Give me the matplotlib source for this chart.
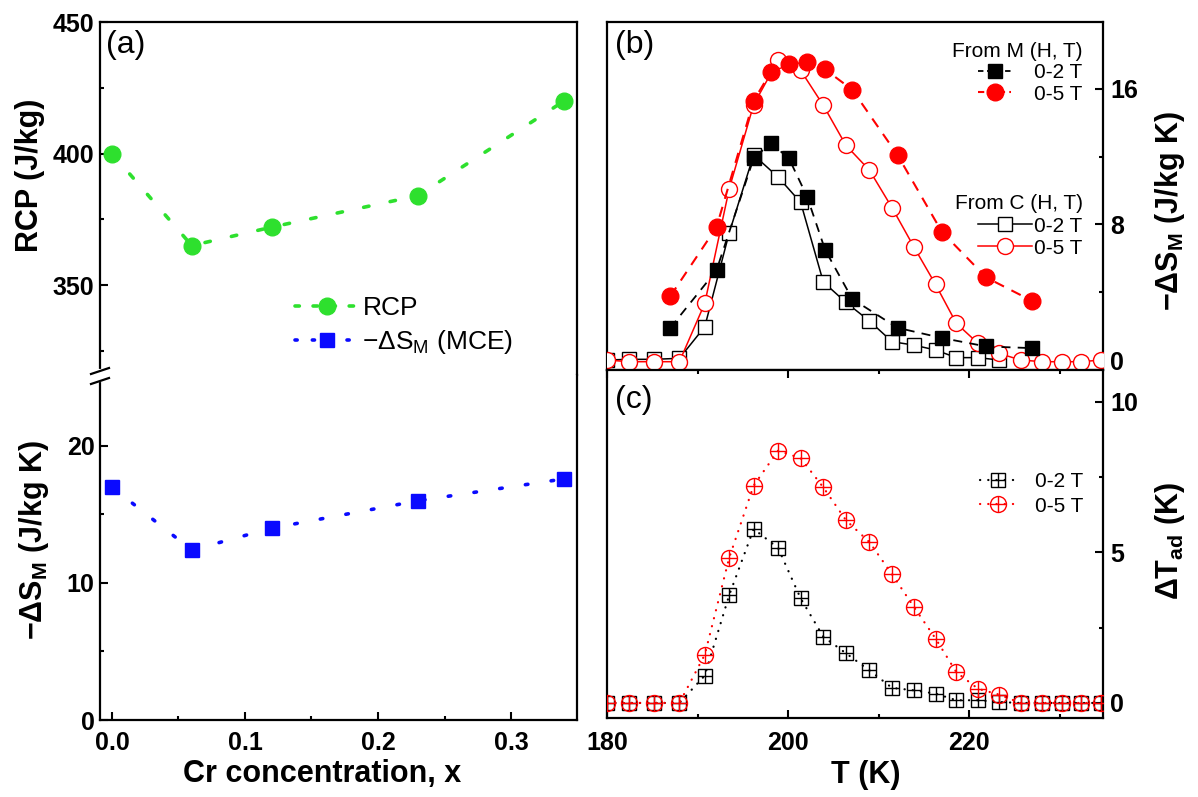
import matplotlib
matplotlib.use('Agg')
import matplotlib.pyplot as plt
from matplotlib.lines import Line2D
from matplotlib.ticker import FixedLocator

plt.rcParams['font.family'] = ['Liberation Sans', 'DejaVu Sans']
plt.rcParams['mathtext.fontset'] = 'custom'
plt.rcParams['mathtext.rm'] = 'Liberation Sans'
plt.rcParams['mathtext.it'] = 'Liberation Sans:italic'
plt.rcParams['mathtext.bf'] = 'Liberation Sans:bold'

# ---------------- data ----------------
cr_x = [0.0, 0.06, 0.12, 0.23, 0.34]
rcp = [400, 365, 372, 384, 420]
dsm_mce = [17.0, 12.4, 14.0, 16.0, 17.6]

T_M = [187.0, 192.1, 196.2, 198.1, 200.1, 202.1, 204.1, 207.1, 212.1, 217.0, 221.9, 227.0]
dsm_M_2T = [1.9, 5.3, 11.9, 12.8, 11.9, 9.65, 6.5, 3.6, 1.9, 1.3, 0.8, 0.7]
dsm_M_5T = [3.77, 7.84, 15.3, 17.0, 17.5, 17.6, 17.15, 15.95, 12.1, 7.56, 4.87, 3.48]

T_C = [180.0, 182.4, 185.2, 188.0, 190.8, 193.5, 196.2, 198.9, 201.4, 203.9, 206.4, 209.0,
       211.5, 213.9, 216.3, 218.6, 221.0, 223.3, 225.7, 228.1, 230.3, 232.4, 234.6]
dsm_C_2T = [0.0, 0.04, 0.04, 0.1, 1.96, 7.5, 12.1, 10.8, 9.3, 4.6, 3.4, 2.3, 1.08, 0.88,
            0.59, 0.14, 0.14, 0.0]
dsm_C_5T = [0.0, -0.1, -0.1, -0.1, 3.34, 10.1, 15.07, 17.68, 17.09, 15.03, 12.67, 11.2, 8.98,
            6.68, 4.46, 2.16, 0.98, 0.39, 0.0, -0.1, -0.1, -0.1, 0.0]

dTad_2T = [0, 0, 0, 0, 0.91, 3.58, 5.78, 5.15, 3.47, 2.2, 1.65, 1.08, 0.5, 0.42, 0.31, 0.09,
           0.09, 0.03, 0, 0, 0, 0, 0]
dTad_5T = [0, 0, 0, 0, 1.6, 4.82, 7.22, 8.38, 8.13, 7.16, 6.07, 5.34, 4.27, 3.19, 2.14, 1.02,
           0.47, 0.28, 0, 0, 0, 0, 0]

GREEN = '#2ee02e'
BLUE = '#0a0aff'
RED = '#ff0000'

TICK_FS = 18
LABEL_FS = 22
PANEL_FS = 23
LEG_FS = 15

W, H = 1198, 797
fig = plt.figure(figsize=(W / 100, H / 100), dpi=100)


def rect(l, t, r, b):
    return [l / W, 1 - b / H, (r - l) / W, (b - t) / H]


ax_a1 = fig.add_axes(rect(100, 22, 577, 375))
ax_a2 = fig.add_axes(rect(100, 375, 577, 720))
ax_b = fig.add_axes(rect(607, 22, 1103, 370))
ax_c = fig.add_axes(rect(607, 370, 1103, 718))

for ax in (ax_a1, ax_a2, ax_b, ax_c):
    for s in ax.spines.values():
        s.set_linewidth(1.6)
    ax.tick_params(which='both', direction='in', width=1.5, top=False, right=False,
                   labelsize=TICK_FS)
    ax.tick_params(which='major', length=6)
    ax.tick_params(which='minor', length=3)


def bold_labels(ax):
    for lbl in ax.get_xticklabels() + ax.get_yticklabels():
        lbl.set_fontweight('bold')


# ---------------- panel (a) ----------------
dash_g = (0, (1.5, 6.0))
dash_b = (0, (0.7, 6.5))
ax_a1.plot(cr_x, rcp, color=GREEN, lw=2.6, linestyle=dash_g, dash_capstyle='round',
           marker='o', ms=12, mec=GREEN, mfc=GREEN)
ax_a2.plot(cr_x, dsm_mce, color=BLUE, lw=2.6, linestyle=dash_b, dash_capstyle='round',
           marker='s', ms=10, mec=BLUE, mfc=BLUE)
for ax in (ax_a1, ax_a2):
    ax.set_xlim(-0.009, 0.3496)
ax_a1.set_ylim(315.8, 450)
ax_a2.set_ylim(0, 25.18)
ax_a1.spines['bottom'].set_visible(False)
ax_a2.spines['top'].set_visible(False)
ax_a1.tick_params(which='both', bottom=False, labelbottom=False)
ax_a1.yaxis.set_major_locator(FixedLocator([350, 400, 450]))
ax_a1.yaxis.set_minor_locator(FixedLocator([325, 375, 425]))
ax_a2.yaxis.set_major_locator(FixedLocator([0, 10, 20]))
ax_a2.yaxis.set_minor_locator(FixedLocator([5, 15]))
ax_a2.xaxis.set_major_locator(FixedLocator([0.0, 0.1, 0.2, 0.3]))
ax_a2.xaxis.set_minor_locator(FixedLocator([0.05, 0.15, 0.25]))
ax_a2.set_xticklabels(['0.0', '0.1', '0.2', '0.3'])
ax_a1.tick_params(axis='y', pad=4)
ax_a2.tick_params(axis='y', pad=4)
ax_a2.tick_params(axis='x', pad=8)
bold_labels(ax_a1)
bold_labels(ax_a2)

h_rcp = Line2D([], [], color=GREEN, lw=2.6, linestyle=(0, (1.2, 3.8)), dash_capstyle='round',
               marker='o', ms=12, mec=GREEN, mfc=GREEN)
h_mce = Line2D([], [], color=BLUE, lw=2.6, linestyle=(0, (0.6, 4.2)), dash_capstyle='round',
               marker='s', ms=10, mec=BLUE, mfc=BLUE)
ax_a1.legend([h_rcp, h_mce], ['RCP', '\u2212\u0394S$_\\mathrm{M}$ (MCE)'],
             loc='upper left', bbox_to_anchor=(282 / W, 1 - 283 / H),
             bbox_transform=fig.transFigure, frameon=False, fontsize=19,
             handlelength=2.4, handletextpad=0.15, labelspacing=0.3, borderpad=0)

fig.text(106 / W, 1 - 45 / H, '(a)', fontsize=PANEL_FS, ha='left', va='center')
fig.text(30 / W, 1 - 175 / H, 'RCP (J/kg)', fontsize=LABEL_FS, fontweight='bold',
         rotation=90, ha='center', va='center')
fig.text(34 / W, 1 - 540 / H, '\u2212\u0394S$_\\mathbf{M}$ (J/kg K)', fontsize=LABEL_FS,
         fontweight='bold', rotation=90, ha='center', va='center')
fig.text(322 / W, 1 - 774 / H, 'Cr concentration, x', fontsize=LABEL_FS, fontweight='bold',
         ha='center', va='center')

# axis break marks on the left spine
px = lambda x, y: (x / W, 1 - y / H)
fig.add_artist(Line2D([100 / W, 100 / W], [1 - 371 / H, 1 - 380 / H], color='white',
                      lw=3, transform=fig.transFigure))
for yb in (371, 381):
    x0, y0 = px(91, yb + 3)
    x1, y1 = px(109, yb - 3)
    fig.add_artist(Line2D([x0, x1], [y0, y1], color='black', lw=1.6,
                          transform=fig.transFigure))

# ---------------- panel (b) ----------------
n2 = len(dsm_C_2T)
ax_b.plot(T_C[:n2], dsm_C_2T, color='black', lw=1.1, marker='s', ms=10.5,
          mfc='white', mec='black', mew=1.0, zorder=2)
ax_b.plot(T_C, dsm_C_5T, color=RED, lw=1.1, marker='o', ms=11.5,
          mfc='white', mec=RED, mew=1.0, zorder=3)
ax_b.plot(T_M, dsm_M_2T, color='black', lw=1.3, linestyle=(0, (5, 4)), marker='s', ms=10.5,
          mfc='black', mec='black', zorder=4)
ax_b.plot(T_M, dsm_M_5T, color=RED, lw=1.5, linestyle=(0, (5, 4)), marker='o', ms=12,
          mfc=RED, mec=RED, zorder=5)
ax_b.set_xlim(180, 234.8)
ax_b.set_ylim(-0.59, 19.95)
ax_b.tick_params(which='both', bottom=False, labelbottom=False, left=False, labelleft=False,
                 right=True, labelright=True)
ax_b.yaxis.set_major_locator(FixedLocator([0, 8, 16]))
ax_b.yaxis.set_minor_locator(FixedLocator([4, 12]))
ax_b.tick_params(axis='y', pad=5)
bold_labels(ax_b)

hM2 = Line2D([], [], color='black', lw=1.3, linestyle=(0, (3, 2)), marker='s', ms=10.5,
             mfc='black', mec='black')
hM5 = Line2D([], [], color=RED, lw=1.5, linestyle=(0, (3, 2)), marker='o', ms=12,
             mfc=RED, mec=RED)
legM = ax_b.legend([hM2, hM5], ['0-2 T', '0-5 T'], title='From M (H, T)',
                   loc='upper right', bbox_to_anchor=(1093 / W, 1 - 32 / H),
                   bbox_transform=fig.transFigure, frameon=False, fontsize=LEG_FS,
                   title_fontsize=LEG_FS, handlelength=1.6, handletextpad=1.1,
                   labelspacing=0.1, borderpad=0, alignment='right')
ax_b.add_artist(legM)
hC2 = Line2D([], [], color='black', lw=1.1, marker='s', ms=10.5, mfc='white', mec='black')
hC5 = Line2D([], [], color=RED, lw=1.1, marker='o', ms=11.5, mfc='white', mec=RED)
ax_b.legend([hC2, hC5], ['0-2 T', '0-5 T'], title='From C (H, T)',
            loc='upper right', bbox_to_anchor=(1093 / W, 1 - 184 / H),
            bbox_transform=fig.transFigure, frameon=False, fontsize=LEG_FS,
            title_fontsize=LEG_FS, handlelength=2.6, handletextpad=0.1,
            labelspacing=0.15, borderpad=0, alignment='right')

fig.text(615 / W, 1 - 45 / H, '(b)', fontsize=PANEL_FS, ha='left', va='center')
fig.text(1170 / W, 1 - 211 / H, '\u2212\u0394S$_\\mathbf{M}$ (J/kg K)', fontsize=LABEL_FS,
         fontweight='bold', rotation=90, ha='center', va='center')

# ---------------- panel (c) ----------------
dot_c = (0, (0.1, 3.6))
ax_c.plot(T_C, dTad_2T, color='black', lw=1.6, linestyle=dot_c, dash_capstyle='round',
          marker='s', ms=10, mfc='none', mec='black', mew=1.0, zorder=2)
ax_c.plot(T_C, dTad_2T, linestyle='none', marker='+', ms=10, mec='black', mew=1.0, zorder=2)
ax_c.plot(T_C, dTad_5T, color=RED, lw=1.6, linestyle=dot_c, dash_capstyle='round',
          marker='o', ms=11.5, mfc='none', mec=RED, mew=1.0, zorder=3)
ax_c.plot(T_C, dTad_5T, linestyle='none', marker='+', ms=11.5, mec=RED, mew=1.0, zorder=3)
ax_c.set_xlim(180, 234.8)
ax_c.set_ylim(-0.5, 11.06)
ax_c.tick_params(which='both', top=True, left=False, labelleft=False, right=True,
                 labelright=True)
ax_c.xaxis.set_major_locator(FixedLocator([180, 200, 220]))
ax_c.xaxis.set_minor_locator(FixedLocator([190, 210, 230]))
ax_c.yaxis.set_major_locator(FixedLocator([0, 5, 10]))
ax_c.yaxis.set_minor_locator(FixedLocator([2.5, 7.5]))
ax_c.set_yticklabels(['0', '5', '10'])
ax_c.tick_params(axis='y', pad=5)
ax_c.tick_params(axis='x', pad=9)
bold_labels(ax_c)

hT2a = Line2D([], [], color='black', lw=1.6, linestyle=dot_c, dash_capstyle='round',
              marker='s', ms=10, mfc='none', mec='black', mew=1.0)
hT2b = Line2D([], [], linestyle='none', marker='+', ms=10, mec='black', mew=1.0)
hT5a = Line2D([], [], color=RED, lw=1.6, linestyle=dot_c, dash_capstyle='round',
              marker='o', ms=11.5, mfc='none', mec=RED, mew=1.0)
hT5b = Line2D([], [], linestyle='none', marker='+', ms=11.5, mec=RED, mew=1.0)
ax_c.legend([(hT2a, hT2b), (hT5a, hT5b)], ['0-2 T', '0-5 T'],
            loc='upper left', bbox_to_anchor=(970 / W, 1 - 462 / H),
            bbox_transform=fig.transFigure, frameon=False, fontsize=LEG_FS,
            handlelength=1.7, handletextpad=0.9, labelspacing=0.25, borderpad=0)

fig.text(615 / W, 1 - 400 / H, '(c)', fontsize=PANEL_FS, ha='left', va='center')
fig.text(1170 / W, 1 - 541 / H, '\u0394T$_\\mathbf{ad}$ (K)', fontsize=LABEL_FS,
         fontweight='bold', rotation=90, ha='center', va='center')
fig.text(866 / W, 1 - 775 / H, 'T (K)', fontsize=LABEL_FS, fontweight='bold',
         ha='center', va='center')

fig.savefig('out.png', dpi=100)
